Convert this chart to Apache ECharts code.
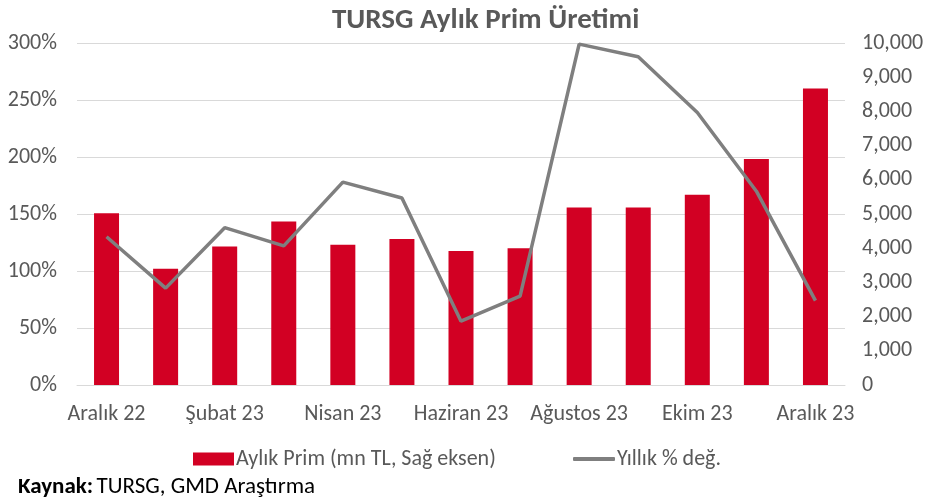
<!DOCTYPE html>
<html>
<head>
<meta charset="utf-8">
<script src="https://cdn.jsdelivr.net/npm/echarts@6/dist/echarts.min.js"></script>
<style>
  html, body { margin: 0; padding: 0; background: #fff; }
  #chart { width: 928px; height: 502px; }
</style>
</head>
<body>
<div id="chart"></div>
<script>
// aylar
var months = ["Aralık 22", "Ocak 23", "Şubat 23", "Mart 23", "Nisan 23", "Mayıs 23", "Haziran 23",
  "Temmuz 23", "Ağustos 23", "Eylül 23", "Ekim 23", "Kasım 23", "Aralık 23"];
// aylık prim (mn TL) - sağ eksen
var aylikPrim = [5025, 3400, 4050, 4780, 4100, 4270, 3920, 4000, 5190, 5190, 5560, 6610, 8670];
// yıllık % değişim - sol eksen
var yillikDeg = [130, 85, 138, 122, 178, 164, 56, 78, 299, 288, 239, 170, 74];

var fontFam = "Carlito, 'Liberation Sans Narrow', 'Noto Sans', sans-serif";
var txtColor = "#595959";

var chart = echarts.init(document.getElementById("chart"));
var option = {
  animation: false,
  textStyle: { fontFamily: fontFam },
  title: {
    text: "TURSG Aylık Prim Üretimi",
    left: 327,
    top: 1,
    textStyle: { fontSize: 29, fontWeight: "bold", color: "#595959", fontFamily: fontFam }
  },
  grid: { left: 77, right: 83, top: 43, bottom: 117 },
  legend: [
    {
      top: 443,
      left: 188,
      itemWidth: 41,
      itemHeight: 13,
      textStyle: { fontSize: 22, color: txtColor, fontFamily: fontFam, padding: [0, 0, 0, -3] },
      data: [{ name: "Aylık Prim (mn TL, Sağ eksen)", icon: "rect" }]
    },
    {
      top: 443,
      left: 568,
      itemWidth: 42,
      itemHeight: 4,
      textStyle: { fontSize: 22, color: txtColor, fontFamily: fontFam, padding: [0, 0, 0, -3] },
      data: [{ name: "Yıllık % değ.", icon: "roundRect" }]
    }
  ],
  graphic: [{
    type: "text",
    left: 18,
    top: 476,
    style: {
      rich: {
        b: { fontWeight: "bold", fontSize: 23, fill: "#000", fontFamily: fontFam },
        n: { fontSize: 23, fill: "#000", fontFamily: fontFam }
      },
      text: "{b|Kaynak:} {n|TURSG, GMD Araştırma}"
    }
  }],
  xAxis: {
    type: "category",
    data: months,
    axisLine: { show: true, lineStyle: { color: "#d9d9d9" } },
    axisTick: { show: false },
    axisLabel: { interval: 1, color: txtColor, fontSize: 22, margin: 18, fontFamily: fontFam }
  },
  yAxis: [
    {
      type: "value",
      min: 0, max: 300, interval: 50,
      axisLabel: { formatter: "{value}%", color: txtColor, fontSize: 22, margin: 20, fontFamily: fontFam },
      axisLine: { show: false },
      axisTick: { show: false },
      splitLine: { lineStyle: { color: "#d9d9d9" } }
    },
    {
      type: "value",
      min: 0, max: 10000, interval: 1000,
      axisLabel: {
        formatter: function (v) { return v.toLocaleString("en-US"); },
        color: txtColor, fontSize: 22, margin: 17, fontFamily: fontFam
      },
      axisLine: { show: false },
      axisTick: { show: false },
      splitLine: { show: false }
    }
  ],
  series: [
    {
      name: "Aylık Prim (mn TL, Sağ eksen)",
      type: "bar",
      yAxisIndex: 1,
      data: aylikPrim,
      barWidth: 25,
      itemStyle: { color: "#d20023" }
    },
    {
      name: "Yıllık % değ.",
      type: "line",
      yAxisIndex: 0,
      data: yillikDeg,
      symbol: "none",
      lineStyle: { color: "#7f7f7f", width: 3.5 },
      itemStyle: { color: "#7f7f7f" }
    }
  ]
};
chart.setOption(option);
</script>
</body>
</html>
